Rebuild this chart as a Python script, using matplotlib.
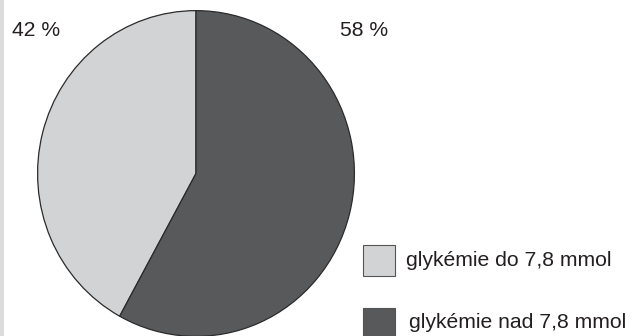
import matplotlib.pyplot as plt
from matplotlib.patches import Rectangle

# share of patients in each glycaemia group (%)
labels = ['glykémie do 7,8 mmol', 'glykémie nad 7,8 mmol']
values = [42, 58]
colors = ['#d2d3d5', '#58595b']

plt.rcParams['font.family'] = ['Liberation Sans', 'DejaVu Sans']
W, H = 632, 336
fig = plt.figure(figsize=(W / 100, H / 100), dpi=100)
fig.patch.set_facecolor('white')

# pie axes, placed in pixel units
px, py, pw, ph = 36, 9, 320, 329
ax = fig.add_axes([px / W, (H - py - ph) / H, pw / W, ph / H])
ax.pie(values, colors=colors, startangle=90, counterclock=True,
       wedgeprops=dict(edgecolor='#2b2b2b', linewidth=0.9))
ax.set_aspect('auto')
ax.set_xlim(-1.01, 1.01)
ax.set_ylim(-1.01, 1.01)
ax.axis('off')

# overlay in pixel coordinates for labels and legend
ov = fig.add_axes([0, 0, 1, 1], facecolor='none')
ov.set_xlim(0, W)
ov.set_ylim(H, 0)
ov.axis('off')

# grey strip on the left edge
ov.add_patch(Rectangle((0, 0), 4, H, color='#dcdcde', lw=0))

txt = '#231f20'
fs = 15.2
ov.text(12, 30, f'{values[0]} %', fontsize=fs, color=txt, ha='left', va='center')
ov.text(340, 30, f'{values[1]} %', fontsize=fs, color=txt, ha='left', va='center')

# legend
for i, (lab, col) in enumerate(zip(labels, colors)):
    y = 245 + i * 63
    ov.add_patch(Rectangle((363, y), 32, 31, facecolor=col,
                           edgecolor='#555555', lw=0.8))
    ov.text(406 + i * 3, y + 15, lab, fontsize=fs, color=txt,
            ha='left', va='center')

fig.savefig('out.png', dpi=100)
